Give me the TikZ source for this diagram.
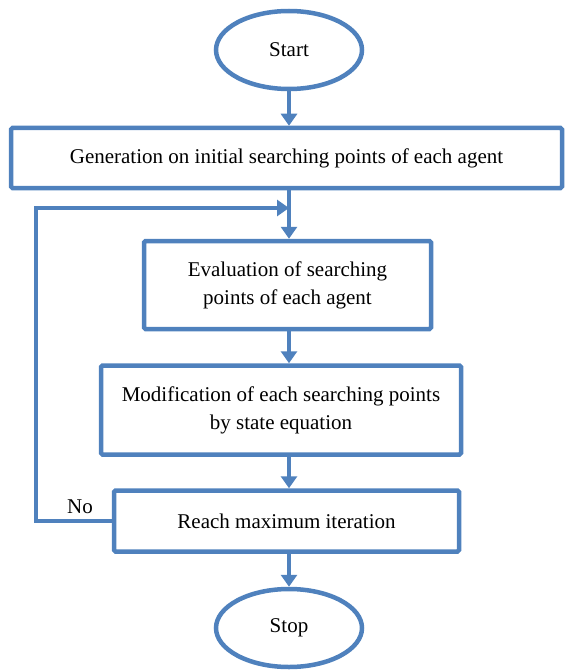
\documentclass[tikz,border=0pt]{standalone}
\usepackage{fontspec}
\setmainfont{Liberation Serif}
\usetikzlibrary{shapes.geometric,arrows.meta}
\definecolor{flowblue}{RGB}{79,129,189}
\begin{document}
\begin{tikzpicture}[x=1pt,y=-1pt,
	font=\fontsize{21}{28}\selectfont,
	terminal/.style={ellipse, draw=flowblue, line width=4.5pt, minimum width=146pt, minimum height=78pt, inner sep=0pt},
	process/.style={rectangle, draw=flowblue, line width=4.5pt, rounded corners=1.5pt, align=center},
	flow/.style={draw=flowblue, line width=4.5pt, -{Triangle[length=12pt,width=16pt]}}]
	\useasboundingbox (0,0) rectangle (565,671);
	
	%Terminals
	\node[terminal] (start) at (289,50) {Start};
	\node[terminal] (stop) at (289,628) {Stop};
	
	%Process boxes
	\node[process, minimum width=551pt, minimum height=60pt] (gen) at (286.5,158) {Generation on initial searching points of each agent};
	\node[process, minimum width=287pt, minimum height=88pt] (eval) at (287.5,285) {Evaluation of searching\\points of each agent};
	\node[process, minimum width=360pt, minimum height=89pt] (modif) at (281,410) {Modification of each searching points\\by state equation};
	\node[process, minimum width=345pt, minimum height=61pt] (reach) at (286.5,521) {Reach maximum iteration};
	
	%Connectors
	\draw[flow] (start.south) -- (start.south |- gen.north);
	\draw[flow] (start.south |- gen.south) -- (start.south |- eval.north);
	\draw[flow] (start.south |- eval.south) -- (start.south |- modif.north);
	\draw[flow] (start.south |- modif.south) -- (start.south |- reach.north);
	\draw[flow] (start.south |- reach.south) -- (stop.north);
	
	%Feedback loop
	\coordinate (back) at (36,208);
	\coordinate (join) at (289,208);
	\draw[flow] (reach.west) -| (back) -- (join);
	\node (no) at (80,507) {No};
\end{tikzpicture}
\end{document}
